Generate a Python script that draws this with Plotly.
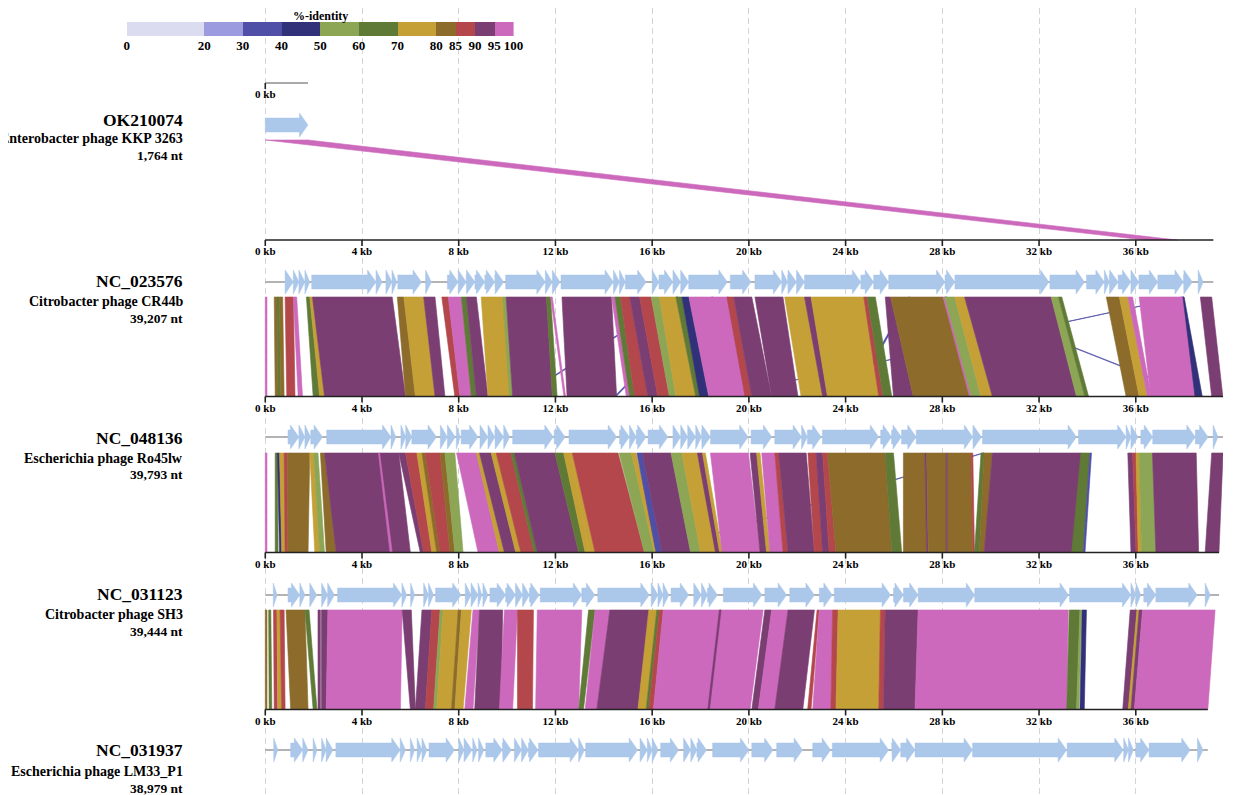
import plotly.graph_objects as go

# ---------------- data ----------------
GENOME_IDS = ["OK210074", "NC_023576", "NC_048136", "NC_031123", "NC_031937"]
GENOME_NAMES = ["Enterobacter phage KKP 3263", "Citrobacter phage CR44b",
                "Escherichia phage Ro45lw", "Citrobacter phage SH3",
                "Escherichia phage LM33_P1"]
GENOME_SIZE_LABELS = ["1,764 nt", "39,207 nt", "39,793 nt", "39,444 nt", "38,979 nt"]
GENOME_LEN_KB = [1.764, 39.207, 39.793, 39.444, 38.979]

RULER_TICKS_KB = [0, 4, 8, 12, 16, 20, 24, 28, 32, 36]

IDENTITY_BINS = [0, 20, 30, 40, 50, 60, 70, 80, 85, 90, 95, 100]
IDENTITY_COLORS = ["#dcdcf0", "#9d9be0", "#4f4fa8", "#31317a", "#8ca655", "#5f7a36",
                   "#c5a036", "#8c6b2b", "#b4474b", "#7b3e72", "#cc69bc"]

# genes (start kb, end kb), all forward strand
GENES_1 = [(0.0, 1.764)]
GENES_2 = [(0.82, 1.16), (1.16, 1.39), (1.39, 1.64), (1.64, 1.84), (1.92, 4.58), (4.58, 4.83),
           (4.99, 5.24), (5.24, 5.44), (5.48, 6.46), (6.63, 6.87), (7.53, 7.98), (7.98, 8.31),
           (8.31, 8.67), (8.67, 9.08), (9.08, 9.49), (9.49, 9.86), (9.94, 11.58), (11.58, 11.87),
           (11.87, 12.19), (12.23, 14.40), (14.40, 14.65), (14.65, 14.89), (14.89, 15.75),
           (16.00, 16.28), (16.28, 16.86), (16.86, 17.18), (17.18, 17.51), (17.51, 19.11),
           (19.23, 20.09), (20.25, 21.36), (21.36, 21.60), (21.60, 21.97), (21.97, 22.30),
           (22.30, 24.63), (24.63, 25.16), (25.16, 25.78), (25.78, 28.11), (28.11, 28.52),
           (28.52, 32.41), (32.45, 33.88), (33.96, 34.70), (34.70, 34.90), (34.90, 35.27),
           (35.27, 35.80), (35.80, 36.13), (36.13, 36.91), (36.91, 37.97), (37.97, 38.34),
           (38.58, 38.79)]
GENES_3 = [(0.94, 1.39), (1.39, 1.64), (1.64, 1.88), (1.88, 2.37), (2.54, 5.20), (5.20, 5.40),
           (5.61, 5.81), (5.81, 6.06), (6.06, 7.08), (7.24, 7.53), (7.53, 7.86), (7.90, 8.06),
           (8.10, 8.80), (8.88, 9.21), (9.21, 9.49), (9.49, 9.86), (9.86, 10.11), (10.23, 11.91),
           (11.95, 12.40), (12.56, 14.53), (14.65, 15.06), (15.06, 15.34), (15.34, 15.75),
           (15.83, 16.65), (16.86, 17.18), (17.18, 17.47), (17.47, 17.80), (17.80, 18.04),
           (18.04, 18.41), (18.41, 19.97), (20.09, 20.95), (21.07, 22.18), (22.18, 22.42),
           (22.42, 22.99), (23.04, 25.37), (25.45, 25.90), (25.90, 26.31), (26.31, 26.92),
           (26.92, 29.26), (29.26, 29.62), (29.66, 33.55), (33.63, 35.60), (35.60, 35.80),
           (35.80, 36.09), (36.21, 36.70), (36.70, 38.46), (38.46, 38.99), (39.20, 39.40)]
GENES_4 = [(0.33, 0.49), (0.94, 1.43), (1.43, 1.64), (1.84, 2.13), (2.33, 2.58), (2.58, 2.86),
           (2.99, 5.65), (5.65, 5.85), (6.01, 6.18), (6.55, 6.75), (6.75, 6.96), (7.04, 8.10),
           (8.27, 8.51), (8.51, 8.80), (8.80, 8.96), (9.00, 9.21), (9.29, 9.94), (9.94, 10.35),
           (10.35, 10.64), (10.64, 10.92), (10.92, 11.33), (11.37, 13.09), (13.09, 13.63),
           (13.75, 15.88), (15.96, 16.24), (16.24, 16.45), (16.45, 16.69), (16.78, 17.51),
           (17.72, 18.04), (18.04, 18.29), (18.29, 18.70), (18.94, 20.54), (20.66, 21.56),
           (21.69, 22.71), (22.91, 23.45), (23.53, 25.86), (25.98, 26.39), (26.39, 27.00),
           (27.00, 29.34), (29.34, 33.22), (33.26, 35.80), (35.80, 36.01), (36.01, 36.21),
           (36.33, 36.83), (36.83, 38.54), (38.87, 39.08)]
GENES_5 = [(0.35, 0.52), (1.05, 1.55), (1.55, 1.77), (1.98, 2.14), (2.33, 2.52), (2.52, 2.80),
           (2.92, 5.58), (5.58, 5.80), (6.00, 6.18), (6.28, 6.48), (6.48, 6.69), (6.77, 7.83),
           (8.00, 8.22), (8.22, 8.55), (8.58, 8.76), (8.82, 9.04), (9.12, 9.80), (9.80, 10.18),
           (10.30, 10.60), (10.60, 10.88), (10.88, 11.28), (11.30, 12.96), (12.96, 13.20),
           (13.25, 15.40), (15.50, 15.80), (15.80, 16.00), (16.00, 16.25), (16.35, 17.10),
           (17.30, 17.60), (17.60, 17.85), (17.85, 18.25), (18.50, 20.00), (20.12, 21.00),
           (21.15, 22.22), (22.64, 23.38), (23.45, 25.78), (25.90, 26.28), (26.28, 26.87),
           (26.87, 29.25), (29.25, 33.14), (33.16, 35.48), (35.50, 35.70), (35.70, 35.90),
           (36.00, 36.55), (36.55, 38.25), (38.55, 38.78)]

# BLAST hits: (upper start, upper end, lower start, lower end, %-identity), kb
HITS_1_2 = [(0.00, 1.764, 36.37, 37.72, 97)]
LINKS_2_3 = [(37.90, 37.97, 18.70, 18.77, 35), (28.10, 28.17, 38.55, 38.62, 35),
             (18.45, 18.52, 14.44, 14.51, 35), (17.00, 17.07, 10.60, 10.67, 35),
             (26.60, 26.67, 24.30, 24.37, 35)]
HITS_2_3 = [(0.00, 0.07, 0.00, 0.07, 97), (0.37, 0.48, 0.41, 0.53, 82), (0.48, 0.59, 0.53, 0.63, 65),
            (0.59, 0.72, 0.63, 0.78, 82), (0.82, 1.16, 0.89, 1.23, 87), (1.16, 1.30, 1.36, 1.54, 97),
            (1.70, 1.84, 1.98, 2.25, 65), (1.84, 1.95, 2.25, 2.45, 75), (1.95, 5.25, 2.45, 5.80, 92),
            (5.46, 5.73, 5.80, 6.21, 82), (5.73, 6.55, 6.21, 7.02, 75), (6.55, 7.02, 7.02, 7.43, 92),
            (7.30, 7.57, 7.84, 8.05, 87), (7.57, 8.11, 8.05, 8.52, 97), (8.11, 8.32, 8.52, 8.73, 65),
            (8.32, 8.73, 8.73, 9.21, 92), (8.93, 9.82, 9.21, 10.16, 75), (9.82, 9.96, 10.10, 10.23, 55),
            (9.96, 11.63, 10.23, 11.87, 92), (11.63, 11.80, 11.87, 12.07, 65),
            (11.80, 11.87, 12.35, 12.42, 97), (12.27, 14.32, 12.48, 14.53, 92),
            (14.32, 14.46, 14.93, 15.07, 97), (14.46, 14.69, 15.07, 15.27, 65),
            (14.69, 15.07, 15.27, 15.82, 87), (15.07, 15.48, 15.82, 16.23, 92),
            (15.48, 15.96, 16.23, 16.71, 87), (15.96, 16.30, 16.71, 16.98, 55),
            (16.30, 16.98, 16.98, 17.80, 75), (16.98, 17.23, 17.80, 17.96, 65),
            (17.23, 17.52, 17.96, 18.34, 45), (17.52, 19.16, 18.34, 19.91, 97),
            (19.09, 19.37, 19.84, 20.12, 87), (19.37, 20.12, 20.12, 20.94, 92),
            (20.25, 21.41, 20.94, 22.03, 92), (21.48, 22.30, 22.16, 23.05, 75),
            (22.30, 22.57, 23.05, 23.25, 92), (22.57, 24.75, 23.25, 25.37, 75),
            (24.75, 24.89, 25.37, 25.55, 87), (24.89, 25.23, 25.55, 25.91, 65),
            (25.64, 25.86, 25.98, 26.80, 92), (25.86, 28.03, 26.80, 29.18, 82),
            (28.03, 28.10, 29.12, 29.26, 97), (28.10, 28.51, 29.19, 29.60, 55),
            (28.51, 28.92, 29.60, 30.07, 75), (28.92, 32.50, 30.07, 33.55, 92),
            (32.50, 32.80, 33.55, 33.89, 55), (32.80, 32.94, 33.89, 34.05, 65),
            (34.78, 35.32, 35.60, 36.14, 82), (35.32, 35.67, 36.14, 36.48, 75),
            (35.67, 35.87, 36.48, 36.65, 97), (36.14, 37.98, 36.62, 38.46, 97),
            (37.95, 38.00, 38.45, 38.75, 45), (38.67, 39.14, 39.14, 39.60, 92)]
LINKS_3_4 = [(29.66, 29.73, 16.00, 16.07, 35)]
HITS_3_4 = [(0.00, 0.07, 0.00, 0.07, 97), (0.41, 0.50, 0.41, 0.53, 65), (0.50, 0.59, 0.59, 0.68, 45),
            (0.59, 0.78, 0.68, 0.82, 75), (0.78, 0.91, 0.82, 0.93, 87), (0.91, 1.84, 0.93, 1.77, 82),
            (1.84, 2.00, 2.05, 2.25, 75), (2.00, 2.18, 2.25, 2.45, 55), (2.28, 2.45, 2.52, 2.93, 82),
            (2.45, 5.52, 2.93, 6.00, 92), (4.68, 4.73, 5.16, 5.25, 97), (5.52, 5.80, 6.41, 6.55, 92),
            (5.80, 6.27, 6.55, 6.89, 87), (6.27, 6.48, 6.89, 7.09, 75), (6.48, 6.62, 7.09, 7.23, 82),
            (6.62, 7.23, 7.23, 7.64, 87), (7.23, 7.43, 7.64, 7.84, 82), (7.43, 7.84, 7.84, 8.18, 55),
            (7.91, 8.73, 8.80, 9.68, 97), (8.73, 8.86, 9.68, 9.89, 75), (8.86, 9.34, 9.89, 10.36, 92),
            (9.34, 9.55, 10.36, 10.57, 75), (9.55, 10.16, 10.57, 11.12, 87),
            (10.16, 10.30, 11.12, 11.25, 65), (10.30, 11.98, 11.25, 12.96, 92),
            (11.98, 12.34, 12.96, 13.23, 65), (12.34, 12.61, 13.23, 13.40, 75),
            (12.61, 12.70, 13.40, 13.64, 75), (12.70, 14.59, 13.64, 15.68, 87),
            (14.63, 15.14, 15.68, 16.09, 55), (15.14, 15.34, 16.09, 16.25, 75),
            (15.37, 15.59, 16.16, 16.41, 35), (15.59, 16.78, 16.41, 17.59, 92),
            (16.78, 17.23, 17.59, 18.00, 55), (17.23, 17.87, 18.00, 18.69, 75),
            (17.87, 18.08, 18.62, 18.79, 92), (18.08, 18.20, 18.79, 18.90, 75),
            (18.41, 19.98, 18.89, 20.46, 97), (20.05, 20.32, 20.46, 20.73, 92),
            (20.32, 20.46, 20.73, 20.87, 75), (20.53, 21.07, 20.87, 21.41, 97),
            (21.07, 21.23, 21.41, 21.62, 87), (21.23, 22.37, 21.62, 22.71, 92),
            (22.44, 22.78, 22.71, 23.05, 87), (22.78, 23.05, 23.05, 23.32, 92),
            (23.05, 23.25, 23.32, 23.60, 87), (23.25, 25.64, 23.60, 25.91, 82),
            (25.64, 25.98, 25.91, 26.32, 65), (26.39, 27.28, 26.39, 27.35, 82),
            (27.28, 27.35, 27.35, 27.42, 92), (27.35, 28.16, 27.42, 28.16, 82),
            (28.16, 28.23, 28.16, 28.23, 92), (28.23, 29.19, 28.23, 29.26, 82),
            (29.19, 29.26, 29.26, 29.33, 87), (29.60, 29.73, 29.33, 29.53, 65),
            (29.73, 30.07, 29.53, 29.73, 82), (30.07, 33.76, 29.73, 33.42, 92),
            (33.73, 34.10, 33.35, 33.83, 65), (34.10, 34.17, 33.83, 33.90, 35),
            (35.67, 35.87, 35.80, 36.01, 92), (35.87, 36.01, 36.01, 36.10, 87),
            (36.01, 36.14, 36.10, 36.24, 75), (36.14, 36.69, 36.24, 36.83, 55),
            (36.69, 38.50, 36.83, 38.60, 92), (39.14, 39.61, 38.87, 39.44, 92)]
HITS_4_5 = [(0.00, 0.07, 0.00, 0.07, 82), (0.14, 0.23, 0.16, 0.27, 65), (0.34, 0.48, 0.37, 0.50, 87),
            (0.48, 0.61, 0.53, 0.68, 75), (0.61, 0.78, 0.68, 0.82, 87), (0.86, 1.64, 1.05, 1.77, 82),
            (1.64, 1.81, 1.98, 2.14, 65), (2.18, 2.28, 2.18, 2.28, 92), (2.32, 2.59, 2.32, 2.52, 92),
            (2.59, 5.66, 2.52, 5.59, 97), (5.66, 6.04, 6.00, 6.21, 92), (6.48, 6.89, 6.21, 6.62, 92),
            (6.89, 7.23, 6.62, 6.96, 87), (7.23, 7.36, 6.96, 7.09, 55), (7.36, 7.98, 7.09, 7.70, 75),
            (7.98, 8.11, 7.70, 7.84, 82), (8.11, 8.52, 7.84, 8.18, 75), (8.59, 8.86, 8.25, 8.59, 97),
            (8.86, 9.82, 8.66, 9.75, 92), (9.89, 10.43, 9.68, 10.23, 97), (10.43, 11.09, 10.43, 11.05, 87),
            (11.25, 13.09, 11.18, 12.96, 97), (13.37, 13.64, 12.96, 13.16, 65),
            (13.64, 14.25, 13.23, 13.71, 97), (14.25, 15.89, 13.71, 15.41, 92),
            (15.86, 16.19, 15.41, 15.75, 75), (16.19, 16.30, 15.75, 15.86, 65),
            (16.30, 16.46, 15.86, 16.05, 87), (16.46, 20.59, 16.05, 20.05, 97),
            (18.78, 18.85, 18.30, 18.37, 92), (20.66, 20.94, 20.12, 20.39, 92),
            (20.94, 21.62, 20.39, 21.07, 97), (21.62, 22.71, 21.07, 22.23, 92),
            (22.82, 22.91, 22.43, 22.57, 87), (22.91, 23.46, 22.64, 23.39, 97),
            (23.46, 23.69, 23.39, 23.60, 87), (23.69, 25.44, 23.60, 25.37, 75),
            (25.44, 25.64, 25.37, 25.57, 87), (25.64, 27.00, 25.57, 26.87, 92),
            (27.00, 33.21, 26.87, 33.14, 97), (33.25, 33.69, 33.14, 33.55, 65),
            (33.69, 33.76, 33.55, 33.65, 55), (33.78, 33.96, 33.69, 33.87, 45),
            (35.77, 36.05, 35.46, 35.69, 92), (36.05, 36.14, 35.69, 35.80, 75),
            (36.14, 36.28, 35.80, 35.94, 92), (36.28, 39.28, 35.94, 38.98, 97)]

ALL_GENES = [GENES_1, GENES_2, GENES_3, GENES_4, GENES_5]
BANDS = [[HITS_1_2], [LINKS_2_3, HITS_2_3], [LINKS_3_4, HITS_3_4], [HITS_4_5]]

# ---------------- layout (page pixel rows) ----------------
GENE_Y = [125, 282, 437, 595, 750]
BAND_Y = [(140, 240), (297, 396.5), (453, 552.5), (610, 709.5)]
RULER_Y = [83, 240, 396.5, 552.5, 709.5]
LABEL_Y = [(120, 138, 155), (281, 301, 318), (438, 458, 474), (594, 614, 631), (750, 771, 788)]

FONT = "Liberation Serif"
GENE_COLOR = "#abc7ea"
PX_PER_KB = 24.44
FIG_W, FIG_H = 1225, 787
X0_PAGE = 265  # page pixel of 0 kb
OFF = 8        # body margin
X_RANGE = [-(X0_PAGE - OFF) / PX_PER_KB, (FIG_W - (X0_PAGE - OFF)) / PX_PER_KB]
Y_RANGE = [OFF + FIG_H, OFF]


def color_for(ident):
    for i in range(len(IDENTITY_BINS) - 1):
        if IDENTITY_BINS[i] <= ident < IDENTITY_BINS[i + 1]:
            return IDENTITY_COLORS[i]
    return IDENTITY_COLORS[-1]


fig = go.Figure()

# synteny bands
for bi, groups in enumerate(BANDS):
    ytop, ybot = BAND_Y[bi]
    for hits in groups:
        for (a0, a1, b0, b1, ident) in hits:
            c = color_for(ident)
            fig.add_trace(go.Scatter(
                x=[a0, a1, b1, b0, a0], y=[ytop, ytop, ybot, ybot, ytop],
                mode="lines", fill="toself", fillcolor=c,
                line=dict(color=c, width=0.6), hoverinfo="skip"))

# rulers
for gi, L in enumerate(GENOME_LEN_KB):
    ry = RULER_Y[gi]
    fig.add_trace(go.Scatter(x=[0, L], y=[ry, ry], mode="lines",
                             line=dict(color="#222222" if gi else "#555555", width=1.6 if gi else 1.2),
                             hoverinfo="skip"))
    ticks = [t for t in RULER_TICKS_KB if t <= L]
    tx, ty = [], []
    for t in ticks:
        tx += [t, t, None]
        ty += [ry, ry + 6, None]
    fig.add_trace(go.Scatter(x=tx, y=ty, mode="lines", line=dict(color="#222222", width=1.6),
                             hoverinfo="skip"))
    fig.add_trace(go.Scatter(x=ticks, y=[ry + 12.5] * len(ticks), mode="text",
                             text=[f"<b>{t} kb</b>" for t in ticks],
                             textfont=dict(family=FONT, size=11, color="black"),
                             hoverinfo="skip"))

# genomes: backbone + gene arrows
BODY, HEAD, HEADLEN = 7, 12, 0.35
for gi, genes in enumerate(ALL_GENES):
    gy = GENE_Y[gi]
    L = GENOME_LEN_KB[gi]
    if gi > 0:
        fig.add_trace(go.Scatter(x=[0, L], y=[gy, gy], mode="lines",
                                 line=dict(color="#9a9a9a", width=1.5), hoverinfo="skip"))
    xs, ys = [], []
    for (s, e) in genes:
        h = min(HEADLEN, e - s)
        m = e - h
        xs += [s, m, m, e, m, m, s, s, None]
        ys += [gy - BODY, gy - BODY, gy - HEAD, gy, gy + HEAD, gy + BODY, gy + BODY, gy - BODY, None]
    fig.add_trace(go.Scatter(x=xs, y=ys, mode="lines", fill="toself", fillcolor=GENE_COLOR,
                             line=dict(color=GENE_COLOR, width=0.5), hoverinfo="skip"))

# identity colour scale
lefts = IDENTITY_BINS[:-1]
widths = [IDENTITY_BINS[i + 1] - IDENTITY_BINS[i] for i in range(len(lefts))]
fig.add_trace(go.Bar(x=widths, base=lefts, y=[0] * len(lefts), orientation="h",
                     marker=dict(color=IDENTITY_COLORS, line=dict(width=0)), width=1,
                     xaxis="x2", yaxis="y2", hoverinfo="skip"))

annotations = []
for gi in range(5):
    y1, y2, y3 = LABEL_Y[gi]
    xr = (184 - X0_PAGE) / PX_PER_KB
    annotations.append(dict(x=xr, y=y1, xref="x", yref="y", xanchor="right", yanchor="middle",
                            text=f"<b>{GENOME_IDS[gi]}</b>", showarrow=False,
                            font=dict(family=FONT, size=17.5, color="black")))
    annotations.append(dict(x=xr, y=y2, xref="x", yref="y", xanchor="right", yanchor="middle",
                            text=f"<b>{GENOME_NAMES[gi]}</b>", showarrow=False,
                            font=dict(family=FONT, size=14, color="black")))
    annotations.append(dict(x=xr, y=y3, xref="x", yref="y", xanchor="right", yanchor="middle",
                            text=f"<b>{GENOME_SIZE_LABELS[gi]}</b>", showarrow=False,
                            font=dict(family=FONT, size=13.5, color="black")))
annotations.append(dict(x=50, y=16, xref="x2", yref="y", xanchor="center", yanchor="middle",
                        text="<b>%-identity</b>", showarrow=False,
                        font=dict(family=FONT, size=12, color="black")))

cb_x0 = (125 - OFF) / FIG_W
cb_x1 = (516 - OFF) / FIG_W
cb_y0 = 1 - (36 - OFF) / FIG_H
cb_y1 = 1 - (22 - OFF) / FIG_H

fig.update_layout(
    width=FIG_W, height=FIG_H,
    margin=dict(l=0, r=0, t=0, b=0),
    paper_bgcolor="white", plot_bgcolor="white",
    showlegend=False, hovermode=False, bargap=0,
    annotations=annotations,
    xaxis=dict(range=X_RANGE, domain=[0, 1], tickmode="array", tickvals=RULER_TICKS_KB,
               showticklabels=False, ticks="", showgrid=True, gridcolor="#d4d4d4",
               griddash="6px,4px", gridwidth=1, zeroline=False, showline=False, fixedrange=True),
    yaxis=dict(range=Y_RANGE, domain=[0, 1], showticklabels=False, showgrid=False,
               zeroline=False, showline=False, fixedrange=True),
    xaxis2=dict(range=[0, 100], domain=[cb_x0, cb_x1], anchor="y2", tickmode="array",
                tickvals=IDENTITY_BINS, ticktext=[f"<b>{v}</b>" for v in IDENTITY_BINS],
                tickfont=dict(family=FONT, size=13, color="black"), ticks="",
                showgrid=False, zeroline=False, showline=False, fixedrange=True),
    yaxis2=dict(range=[-0.5, 0.5], domain=[cb_y0, cb_y1], anchor="x2", visible=False,
                fixedrange=True),
)

fig.write_html("out.html")
